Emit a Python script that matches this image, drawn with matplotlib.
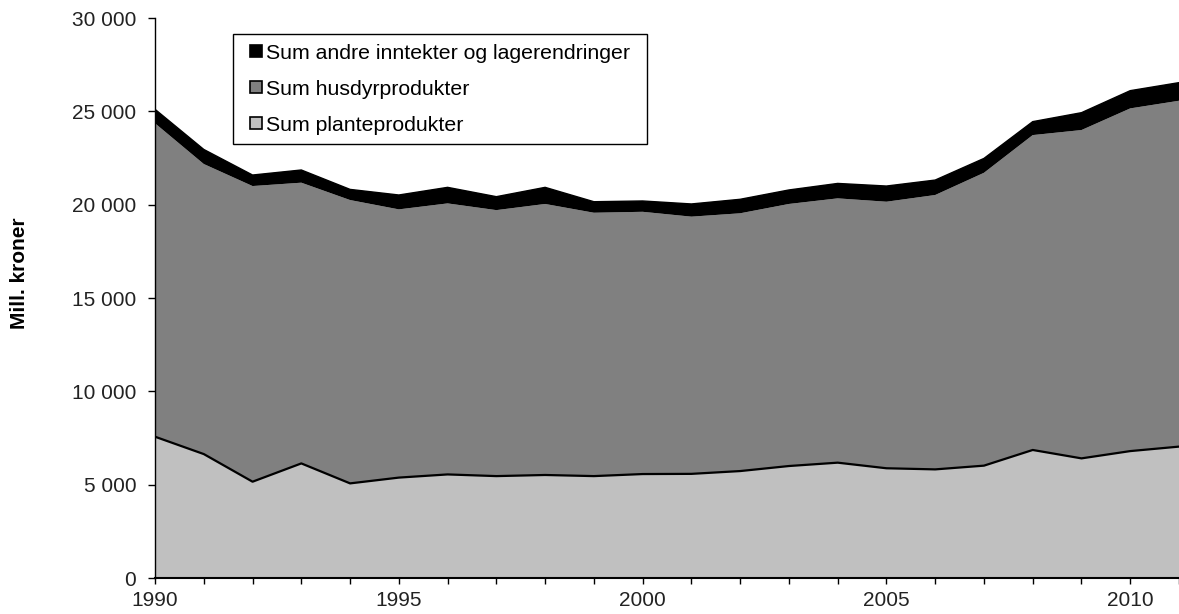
import matplotlib.pyplot as plt
from matplotlib.lines import Line2D
from matplotlib.ticker import FuncFormatter, MultipleLocator

plt.rcParams['font.family'] = ['Liberation Sans', 'DejaVu Sans']

years = list(range(1990, 2012))

# Mill. kroner, lest av figuren
plante = [7570, 6640, 5160, 6140, 5070, 5380, 5550, 5460, 5520, 5460, 5570,
          5580, 5730, 6000, 6180, 5880, 5820, 6020, 6860, 6410, 6800, 7040]
# toppen av husdyr-laget (kumulativ)
plante_husdyr = [24360, 22180, 21000, 21180, 20250, 19750, 20070, 19710, 20040, 19570, 19620,
                 19360, 19540, 20040, 20340, 20160, 20520, 21710, 23730, 24000, 25160, 25570]
# totalsum (kumulativ)
total = [25110, 22960, 21590, 21860, 20820, 20520, 20930, 20430, 20930, 20160, 20200,
         20040, 20290, 20790, 21140, 21000, 21320, 22480, 24450, 24930, 26110, 26540]

husdyr = [b - a for a, b in zip(plante, plante_husdyr)]
andre = [c - b for b, c in zip(plante_husdyr, total)]

labels = ["Sum planteprodukter", "Sum husdyrprodukter", "Sum andre inntekter og lagerendringer"]
colors = ["#c0c0c0", "#808080", "#000000"]

fig = plt.figure(figsize=(11.79, 6.14), dpi=100)
ax = fig.add_axes([0.1315, 0.0586, 0.8685, 0.912])

ax.stackplot(years, plante, husdyr, andre, colors=colors, linewidth=0)
ax.plot(years, plante, color="black", lw=1.6)
ax.plot(years, total, color="black", lw=1.0)

ax.set_xlim(1990, 2011)
ax.set_ylim(0, 30000)
ax.xaxis.set_major_locator(MultipleLocator(5))
ax.xaxis.set_minor_locator(MultipleLocator(1))
ax.yaxis.set_major_locator(MultipleLocator(5000))
ax.yaxis.set_major_formatter(FuncFormatter(lambda v, p: f"{int(v):,}".replace(",", " ")))
ax.tick_params(axis="both", which="both", direction="out", labelsize=15, width=1,
               colors="black", labelcolor="#222222")
ax.tick_params(axis="x", which="both", length=4.5, pad=5)
ax.tick_params(axis="y", length=5, pad=8.5)

for s in ["top", "right"]:
    ax.spines[s].set_visible(False)
ax.spines["left"].set_linewidth(1.0)
ax.spines["bottom"].set_linewidth(1.5)

ax.set_ylabel("Mill. kroner", fontsize=15, fontweight="bold")
ax.yaxis.set_label_coords(-0.123, 0.545)

handles = [Line2D([], [], ls="none", marker="s", markersize=8.6, markerfacecolor=c,
                  markeredgecolor="black", markeredgewidth=1.2) for c in colors]
leg = ax.legend(handles[::-1], labels[::-1], loc="upper left", mode="expand",
                bbox_to_anchor=(0.0762, 0.5, 0.404, 0.471), borderaxespad=0, fontsize=15.3,
                handlelength=1.25, handletextpad=-0.16,
                labelspacing=0.8, borderpad=0.45, fancybox=False,
                framealpha=1, edgecolor="black")
leg.get_frame().set_linewidth(1.0)

fig.savefig("out.png", dpi=100)
